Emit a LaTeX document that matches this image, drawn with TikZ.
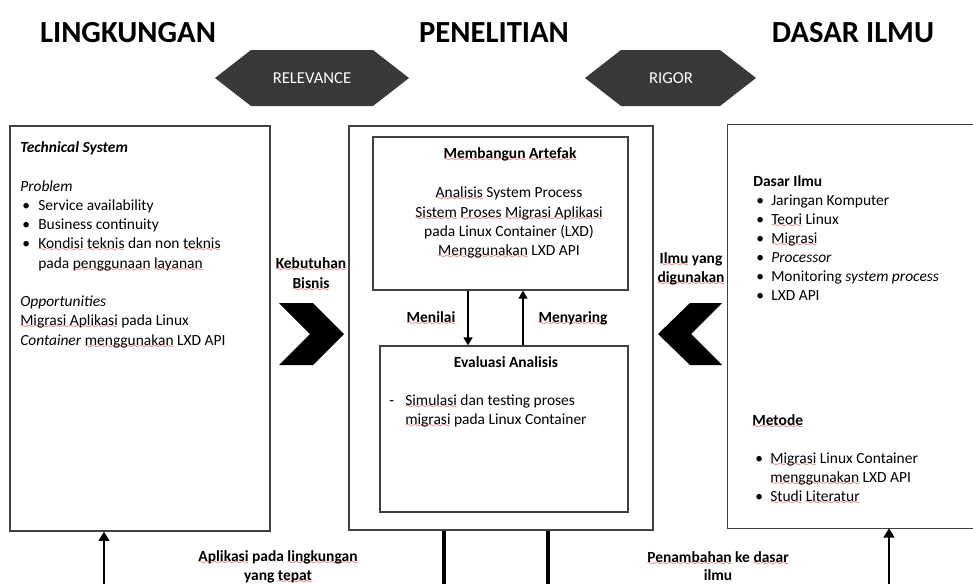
\documentclass[tikz,border=0pt]{standalone}
\usepackage{fontspec}
\setmainfont{Carlito}
\usetikzlibrary{fit,arrows.meta}
\font\wavefont=lasy6
\newsavebox\sqbox
\newcommand\sq[1]{\sbox\sqbox{#1}\rlap{\lower2.6pt\hbox to\wd\sqbox{\color{red}\xleaders\hbox{\wavefont\char58}\hfil}}\usebox\sqbox}
\newcommand\bul{\makebox[12pt][l]{\textbullet}}
\newcommand\bulr{\makebox[11.25pt][l]{\textbullet}}
\definecolor{hexgray}{RGB}{59,56,56}
\definecolor{boxgray}{RGB}{64,64,64}
\begin{document}
\begin{tikzpicture}[x=0.75pt,y=-0.75pt,
  box/.style={draw=boxgray, line width=0.9pt, inner sep=0pt},
  boxline/.style={draw=boxgray, line width=0.9pt},
  txt/.style={inner sep=0pt, font=\fontsize{11.6}{14}\selectfont, text=black},
  btxt/.style={inner sep=0pt, font=\fontsize{11.6}{14}\selectfont\bfseries, text=black},
  head/.style={inner sep=0pt, font=\fontsize{23}{28}\selectfont\bfseries, text=black},
  hexlabel/.style={inner sep=0pt, text=white, font=\fontsize{12.5}{15}\selectfont},
  midarrow/.style={draw=black, line width=1.5pt, -{Triangle[length=6pt,width=6.5pt]}},
  bigarrow/.style={draw=black, line width=2.2pt, -{Triangle[length=7pt,width=8pt]}},
  bigline/.style={draw=black, line width=2.8pt}
]
\useasboundingbox (0,0) rectangle (973,583);

% headings
\node[head, anchor=base] (h1) at (128,42) {LINGKUNGAN};
\node[head, anchor=base] (h2) at (494,42) {PENELITIAN};
\node[head, anchor=base] (h3) at (853,42) {DASAR ILMU};

% hexagons
\fill[hexgray] (215,78) -- (251,50) -- (373,50) -- (409,78) -- (373,106) -- (251,106) -- cycle;
\node[hexlabel] (rel) at (312,78) {RELEVANCE};
\fill[hexgray] (585,78) -- (621,50) -- (720,50) -- (756,78) -- (720,106) -- (621,106) -- cycle;
\node[hexlabel] (rig) at (671,78) {RIGOR};

% boxes
\node[box, fit={(10,126) (270,531)}] (L) {};
\node[box, fit={(349,126) (653,530)}] (M) {};
\node[box, fit={(373,137) (628,290)}] (T) {};
\node[box, fit={(380,346) (628,512)}] (B) {};
\node[inner sep=0pt, fit={(728,125) (973,528)}] (R) {};
\draw[boxline] (R.north east) -- (R.north west) -- (R.south west) -- (R.south east);

% chevrons
\fill[black] (279,303) -- (313,303) -- (344,334) -- (313,365) -- (279,365) -- (310,334) -- cycle;
\fill[black] (722,303) -- (690,303) -- (658,334) -- (690,365) -- (722,365) -- (691,334) -- cycle;

% left box text
\node[txt, anchor=base west] (ts) at (20,152) {\textbf{\textit{Technical System}}};
\node[txt, anchor=base west] (pr) at (20,191) {\textit{Problem}};
\node[txt, anchor=base west] (p1) at (22,210) {\bul Service availability};
\node[txt, anchor=base west] (p2) at (22,229) {\bul Business continuity};
\node[txt, anchor=base west] (p3) at (22,248) {\bul \sq{Kondisi} \sq{teknis} dan non \sq{teknis}};
\node[txt, anchor=base west] (p4) at (38,268) {pada \sq{penggunaan} \sq{layanan}};
\node[txt, anchor=base west] (op) at (20,306) {\textit{Opportunities}};
\node[txt, anchor=base west] (o1) at (20,325) {\sq{Migrasi Aplikasi} pada Linux};
\node[txt, anchor=base west] (o2) at (20,345) {\textit{Container} \sq{menggunakan} LXD API};

% chevron labels
\node[btxt, anchor=base] (kb1) at (311,268) {\sq{Kebutuhan}};
\node[btxt, anchor=base] (kb2) at (311,288) {\sq{Bisnis}};
\node[btxt, anchor=base] (iy1) at (691,263) {\sq{Ilmu} yang};
\node[btxt, anchor=base] (iy2) at (691,282) {\sq{digunakan}};

% top inner box
\node[btxt, anchor=base] (ma) at (510,158) {\sq{Membangun} \sq{Artefak}};
\node[txt, anchor=base] (a1) at (509,197) {\sq{Analisis} System Process};
\node[txt, anchor=base] (a2) at (509,217) {\sq{Sistem} \sq{Proses} \sq{Migrasi Aplikasi}};
\node[txt, anchor=base] (a3) at (509,236) {pada Linux Container (LXD)};
\node[txt, anchor=base] (a4) at (509,255) {\sq{Menggunakan} LXD API};

% arrows between inner boxes
\coordinate (xa) at (468,0);
\coordinate (xb) at (523,0);
\draw[midarrow] (T.south -| xa) -- (B.north -| xa);
\draw[midarrow] (B.north -| xb) -- (T.south -| xb);
\node[btxt, anchor=base] (mn) at (431,322) {\sq{Menilai}};
\node[btxt, anchor=base] (my) at (573,322) {\sq{Menyaring}};

% bottom inner box
\node[btxt, anchor=base] (ev) at (506,367) {Evaluasi Analisis};
\node[txt, anchor=base west] (dash) at (389,405) {-};
\node[txt, anchor=base west] (e1) at (405,405) {\sq{Simulasi} dan testing proses};
\node[txt, anchor=base west] (e2) at (405,424) {\sq{migrasi} pada Linux Container};

% right box text
\node[btxt, anchor=base west] (di) at (753,186) {Dasar Ilmu};
\node[txt, anchor=base west] (d1) at (756,205) {\bulr Jaringan Komputer};
\node[txt, anchor=base west] (d2) at (756,224) {\bulr \sq{Teori} Linux};
\node[txt, anchor=base west] (d3) at (756,243) {\bulr \sq{Migrasi}};
\node[txt, anchor=base west] (d4) at (756,262) {\bulr \textit{Processor}};
\node[txt, anchor=base west] (d5) at (756,281) {\bulr Monitoring \textit{system process}};
\node[txt, anchor=base west] (d6) at (756,300) {\bulr LXD API};
\node[btxt, anchor=base west] (me) at (752,425) {\sq{Metode}};
\node[txt, anchor=base west] (m1) at (755,463) {\bulr \sq{Migrasi} Linux Container};
\node[txt, anchor=base west] (m2) at (770,482) {\sq{menggunakan} LXD API};
\node[txt, anchor=base west] (m3) at (755,501) {\bulr \sq{Studi} \sq{Literatur}};

% bottom connectors
\coordinate (bl) at (104,586);
\coordinate (bm1) at (444,586);
\coordinate (bm2) at (548,586);
\coordinate (br) at (889,586);
\draw[bigarrow] (bl) -- (L.south -| bl);
\draw[bigline] (M.south -| bm1) -- (bm1);
\draw[bigline] (M.south -| bm2) -- (bm2);
\draw[bigarrow] (br) -- (R.south -| br);

% bottom labels
\node[btxt, anchor=base] (ap1) at (278,561) {\sq{Aplikasi} pada \sq{lingkungan}};
\node[btxt, anchor=base] (ap2) at (278,580) {yang \sq{tepat}};
\node[btxt, anchor=base] (pe1) at (718,562) {\sq{Penambahan} ke \sq{dasar}};
\node[btxt, anchor=base] (pe2) at (718,580) {ilmu};
\end{tikzpicture}
\end{document}
